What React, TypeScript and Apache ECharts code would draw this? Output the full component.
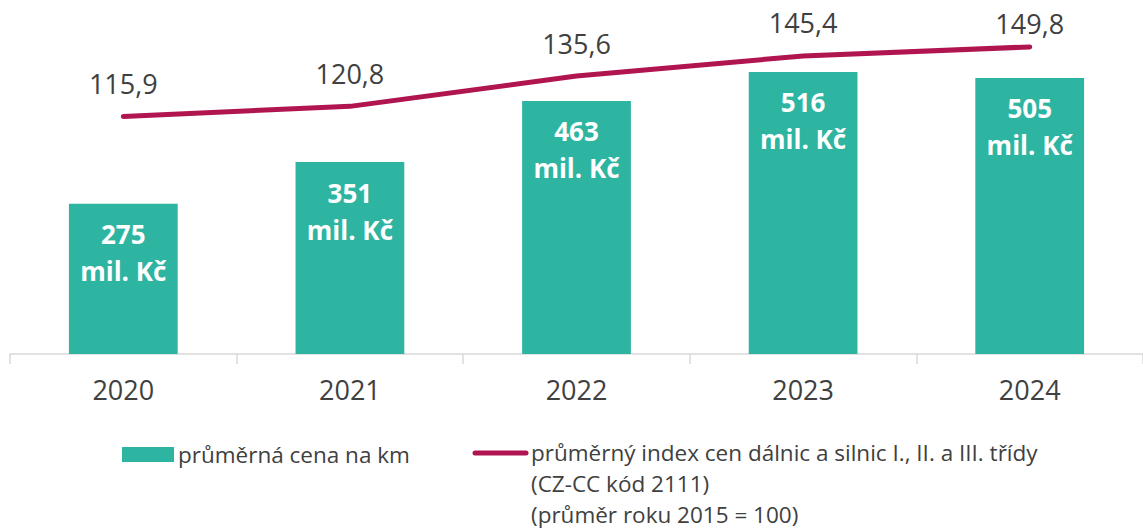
import React, { useEffect, useRef } from "react";
import * as echarts from "echarts";

const years = ["2020", "2021", "2022", "2023", "2024"];
const avgPrice = [275, 351, 463, 516, 505];
const priceIndex = [115.9, 120.8, 135.6, 145.4, 149.8];
const barName = "průměrná cena na km";
const lineNameLines = [
  "průměrný index cen dálnic a silnic I., II. a III. třídy",
  "(CZ-CC kód 2111)",
  "(průměr roku 2015 = 100)",
];

const FONT = "'Open Sans', 'Noto Sans', sans-serif";
const TEAL = "#2EB5A2";
const CRIMSON = "#B0154F";
const TEXT = "#404040";

export default function App() {
  const ref = useRef<HTMLDivElement>(null);
  useEffect(() => {
    if (!ref.current) return;
    const chart = echarts.init(ref.current, undefined, { renderer: "svg" });
    const lastIdx = priceIndex.length - 1;
    chart.setOption({
      animation: false,
      textStyle: { fontFamily: FONT },
      grid: { left: 10, top: 26, width: 1140, bottom: 175, containLabel: false },
      xAxis: {
        type: "category",
        data: years,
        axisLine: { lineStyle: { color: "#D9D9D9", width: 1.5 } },
        axisTick: { show: true, length: 10, lineStyle: { color: "#D9D9D9", width: 1.5 } },
        axisLabel: { color: TEXT, fontSize: 27, fontFamily: FONT, margin: 22 },
      },
      yAxis: [
        { type: "value", min: 0, max: 600, show: false, splitLine: { show: false } },
        { type: "value", min: 0, max: 160, show: false, splitLine: { show: false } },
      ],
      series: [
        {
          type: "bar",
          name: barName,
          data: avgPrice,
          barWidth: "48%",
          itemStyle: { color: TEAL },
          label: {
            show: true,
            position: "insideTop",
            distance: 12,
            color: "#FFFFFF",
            fontWeight: "bold",
            fontSize: 26,
            lineHeight: 37,
            fontFamily: FONT,
            formatter: (p: any) => `${p.value}\nmil. Kč`,
          },
        },
        {
          type: "line",
          name: "index",
          yAxisIndex: 1,
          data: priceIndex.map((v, i) =>
            i === lastIdx ? { value: v, label: { distance: 8 } } : v
          ),
          symbol: "circle",
          symbolSize: 3,
          showSymbol: true,
          lineStyle: { color: CRIMSON, width: 5, cap: "round" },
          itemStyle: { color: CRIMSON },
          label: {
            show: true,
            position: "top",
            distance: 18,
            color: TEXT,
            fontSize: 27,
            fontFamily: FONT,
            formatter: (p: any) => String(p.value).replace(".", ","),
          },
        },
      ],
      graphic: [
        { type: "rect", shape: { x: 122, y: 447, width: 52, height: 15 }, style: { fill: TEAL } },
        {
          type: "text",
          x: 178,
          y: 454,
          style: { text: barName, fill: TEXT, fontSize: 22.5, fontFamily: FONT, verticalAlign: "middle" },
        },
        {
          type: "line",
          shape: { x1: 475, y1: 453, x2: 526, y2: 453 },
          style: { stroke: CRIMSON, lineWidth: 5, lineCap: "round" },
        },
        {
          type: "text",
          x: 531,
          y: 437,
          style: {
            text: lineNameLines.join("\n"),
            fill: TEXT,
            fontSize: 22.5,
            lineHeight: 31,
            fontFamily: FONT,
            verticalAlign: "top",
          },
        },
      ],
    });
    return () => chart.dispose();
  }, []);
  return <div ref={ref} style={{ width: 1143, height: 529, position: "absolute", left: 0, top: 0 }} />;
}
